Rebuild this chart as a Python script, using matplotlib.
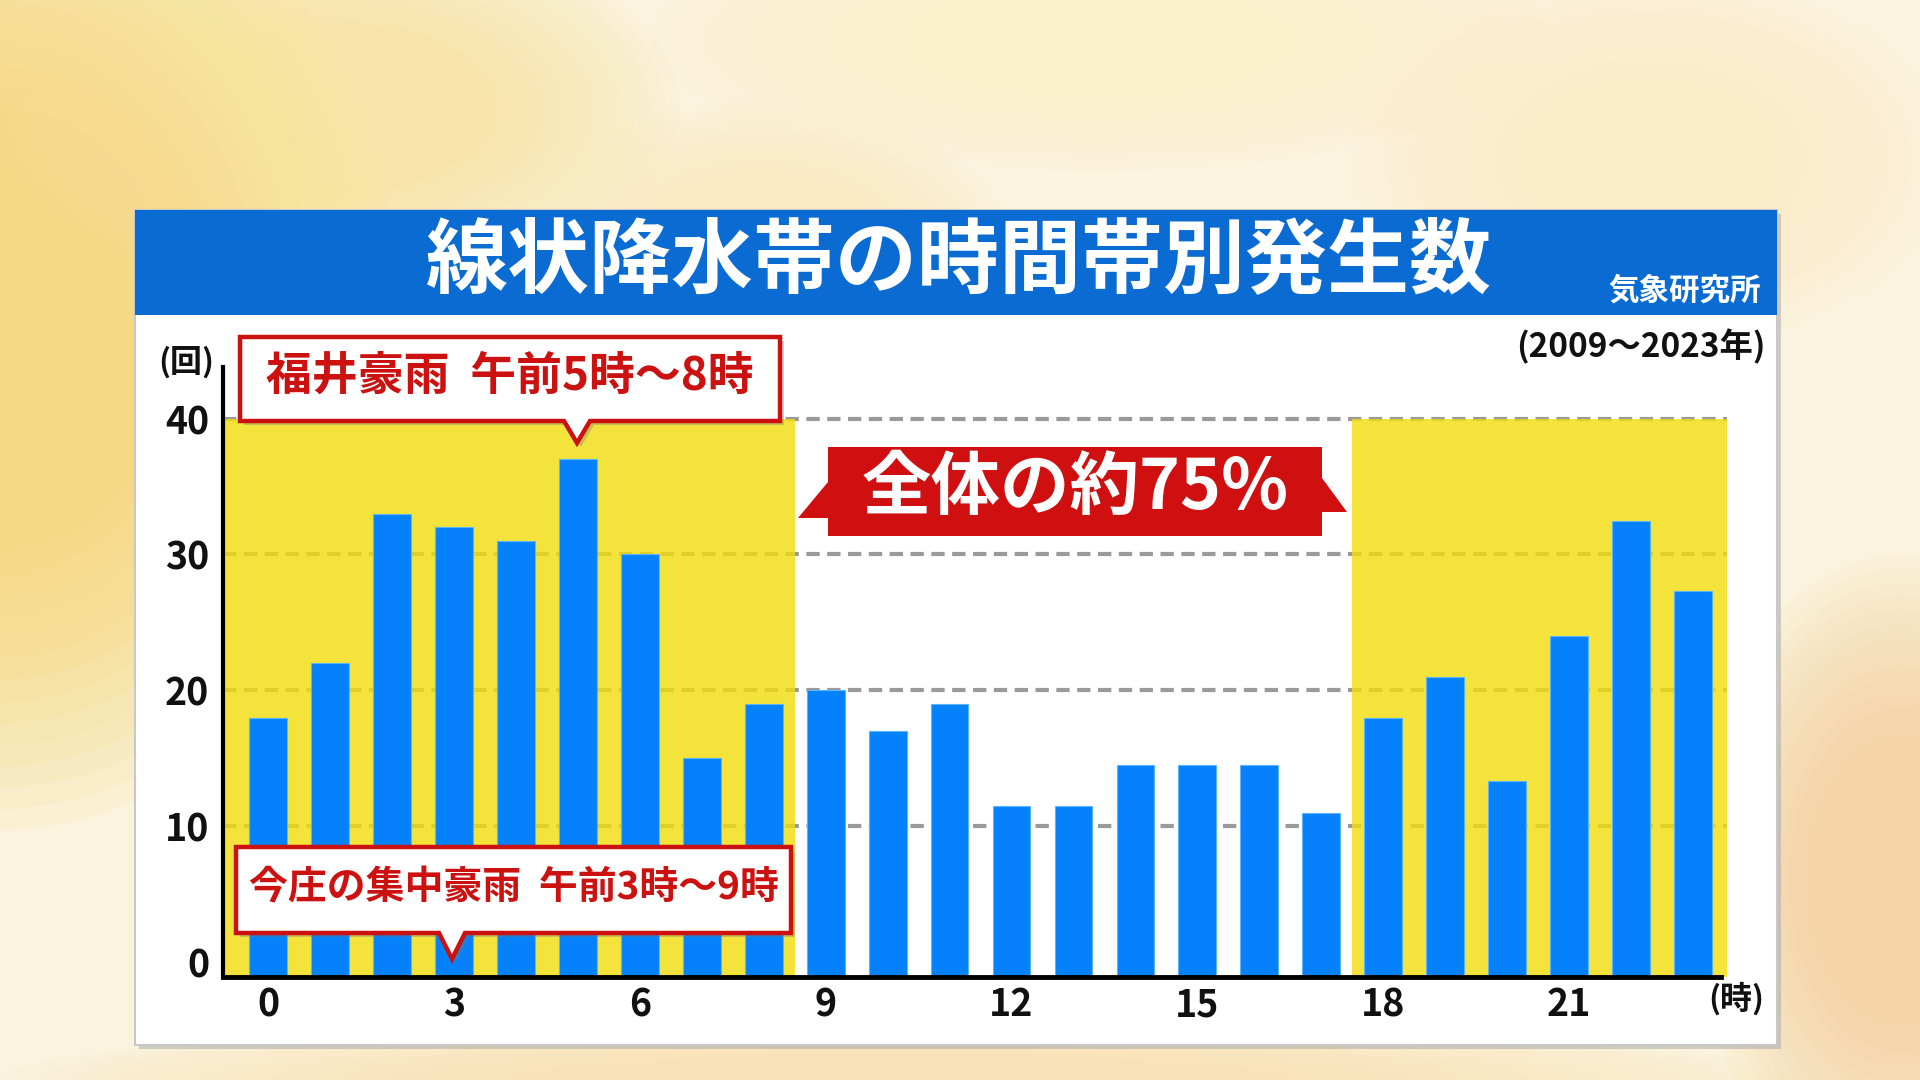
import matplotlib
matplotlib.use("Agg")
from matplotlib import pyplot as plt
from matplotlib.patches import Polygon, Ellipse

plt.rcParams['font.family'] = ['Noto Sans CJK JP', 'DejaVu Sans']

# data
hours = list(range(24))
counts = [18, 22, 33, 32, 31, 37, 30, 15, 19, 20, 17, 19,
          11.5, 11.5, 14.5, 14.5, 14.5, 11, 18, 21, 13.3, 24, 32.5, 27.3]
xticks = [0, 3, 6, 9, 12, 15, 18, 21]
yticks = [0, 10, 20, 30, 40]
night_spans = [(-0.73, 8.5), (17.5, 23.55)]

title = '線状降水帯の時間帯別発生数'
source = '気象研究所'
period = '(2009～2023年)'
note1 = '福井豪雨  午前5時～8時'
note2 = '今庄の集中豪雨  午前3時～9時'
banner = '全体の約75%'

W, H = 1920, 1080
fig = plt.figure(figsize=(W / 100, H / 100), dpi=100)
fig.patch.set_facecolor('#FBF3DE')


def px(x, y):
    # pixel position (from top-left) -> figure fraction
    return (x / W, 1 - y / H)


def poly(points, **kw):
    p = Polygon([px(x, y) for x, y in points], closed=True,
                transform=fig.transFigure, **kw)
    fig.add_artist(p)
    return p


# soft blurred background blobs (stacked ellipses fake a blur)
blobs = [(0, 330, 800, 1000, '#F6D36A', 0.55),
         (330, 110, 700, 380, '#F8E49A', 0.5),
         (760, 250, 500, 300, '#FAEBB8', 0.4),
         (1100, 40, 900, 260, '#FCF0CB', 0.5),
         (1900, 880, 420, 650, '#F5C990', 0.45),
         (1650, 160, 600, 380, '#FBEDC4', 0.4),
         (900, 1080, 1800, 120, '#F9E0A8', 0.45)]
for (cx, cy, w, h, c, a) in blobs:
    n = 14
    for i in range(n):
        k = 1.0 - 0.6 * i / n
        e = Ellipse(px(cx, cy), w * k / W, h * k / H, transform=fig.transFigure,
                    facecolor=c, edgecolor='none', alpha=a / n * 2.2, zorder=0)
        fig.add_artist(e)

# white panel with shadow
poly([(139, 214), (1781, 214), (1781, 1049), (139, 1049)],
     facecolor='#AAAAAA', edgecolor='none', alpha=0.55, zorder=1)
poly([(135, 210), (1777, 210), (1777, 1045), (135, 1045)],
     facecolor='white', edgecolor='#C8C8C8', linewidth=1.5, zorder=1)
# title band
poly([(135, 210), (1777, 210), (1777, 315), (135, 315)],
     facecolor='#0A6BD2', edgecolor='none', zorder=2)
fig.text(*px(959, 262), title, color='white', fontsize=59, fontweight='bold',
         ha='center', va='center', zorder=3)
fig.text(*px(1761, 291), source, color='white', fontsize=22, fontweight='bold',
         ha='right', va='center', zorder=3)
fig.text(*px(1766, 347), period, color='#111111', fontsize=24, fontweight='bold',
         ha='right', va='center', zorder=3)
fig.text(*px(186, 362), '(回)', color='#111111', fontsize=23, fontweight='bold',
         ha='center', va='center', zorder=3)
fig.text(*px(1736, 999), '(時)', color='#111111', fontsize=23, fontweight='bold',
         ha='center', va='center', zorder=3)

# chart axes
ax = fig.add_axes([223 / W, 1 - 977 / H, 1504 / W, 610 / H])
ax.set_facecolor('none')
ax.set_zorder(4)
ymin = -1.1
ax.set_xlim(-0.73, 23.55)
ax.set_ylim(ymin, 43.8)

for y in yticks[1:]:
    ax.plot([-0.73, 23.55], [y, y], color='#9A9A9A', linewidth=3,
            dashes=(3.2, 1.8), zorder=1, solid_capstyle='butt')
for a, b in night_spans:
    ax.fill_between([a, b], ymin, 40, color='#F2DD09', alpha=0.8,
                    linewidth=0, zorder=2)

ax.bar(hours, [c - ymin for c in counts], bottom=ymin, width=0.61,
       color='#0582FB', edgecolor='#5AB4FF', linewidth=0.8, zorder=3)

for s in ['top', 'right']:
    ax.spines[s].set_visible(False)
ax.spines['left'].set_linewidth(3)
ax.spines['bottom'].set_linewidth(3.5)
ax.spines['bottom'].set_bounds(-0.73, 23.45)
ax.spines['left'].set_zorder(5)
ax.spines['bottom'].set_zorder(5)

ax.set_xticks(xticks)
ax.set_xticklabels([str(t) for t in xticks])
ax.set_yticks(yticks)
ax.set_yticklabels([str(t) for t in yticks])
ax.tick_params(axis='x', length=0, labelsize=27, pad=6, labelcolor='#111111')
ax.tick_params(axis='y', length=0, labelsize=27, pad=10, labelcolor='#111111')
for lab in ax.get_xticklabels() + ax.get_yticklabels():
    lab.set_fontweight('bold')


def callout(x0, y0, x1, y1, tip_x, tip_y, text, size):
    pts = [(x0, y0), (x1, y0), (x1, y1), (tip_x + 13, y1), (tip_x, tip_y),
           (tip_x - 13, y1), (x0, y1)]
    poly([(x + 4, y + 4) for x, y in pts], facecolor='#777777',
         edgecolor='none', alpha=0.35, zorder=6)
    poly(pts, facecolor='white', edgecolor='#CC1111', linewidth=3.2,
         joinstyle='miter', zorder=7)
    fig.text(*px((x0 + x1) / 2, (y0 + y1) / 2 - 2), text, color='#CC1111',
             fontsize=size, fontweight='bold', ha='center', va='center',
             zorder=8)


callout(240, 337, 780, 421, 577, 443, note1, 33)
callout(236, 847, 791, 933, 452, 959, note2, 28)

# ribbon banner
poly([(798, 518), (828, 482), (828, 518)], facecolor='#D01010',
     edgecolor='none', zorder=6)
poly([(1347, 512), (1322, 478), (1322, 512)], facecolor='#D01010',
     edgecolor='none', zorder=6)
poly([(828, 447), (1322, 447), (1322, 536), (828, 536)],
     facecolor='#D01010', edgecolor='none', zorder=7)
fig.text(*px(1075, 489), banner, color='white', fontsize=50,
         fontweight='bold', ha='center', va='center', zorder=8)

fig.savefig('out.png', dpi=100)
